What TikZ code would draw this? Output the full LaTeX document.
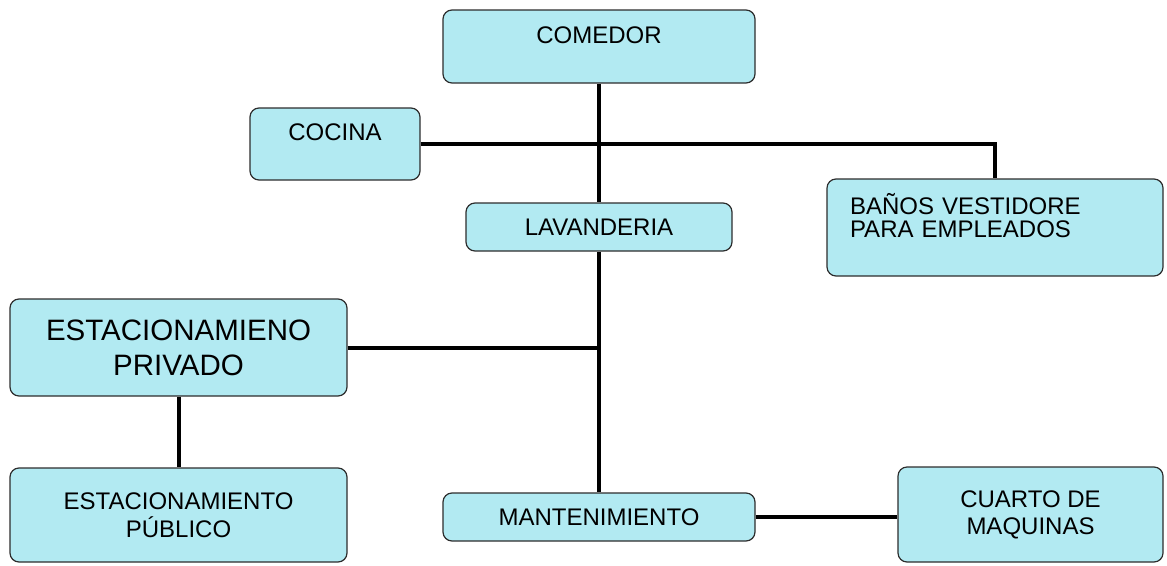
\documentclass[tikz,border=0pt]{standalone}
\usepackage{fontspec}
\setmainfont{Liberation Sans}
\definecolor{boxcyan}{RGB}{178,234,242}
\definecolor{boxedge}{RGB}{45,45,45}
\begin{document}
\begin{tikzpicture}[x=1pt, y=-1pt, line width=4pt,
    area/.style={draw=boxedge, line width=1.2pt, fill=boxcyan, rounded corners=9pt, inner sep=0pt, align=center, font=\fontsize{24}{23}\selectfont}]

                \useasboundingbox (0, 0) rectangle (1167, 565);

                \node[area, minimum width=312, minimum height=73, text depth=22] at (599, 46.5) (comedor) {COMEDOR};
                \node[area, minimum width=170, minimum height=72, text depth=23] at (335, 144) (cocina) {COCINA};
                \node[area, minimum width=266, minimum height=48] at (599, 227) (lavanderia) {LAVANDERIA};
                \node[area, minimum width=336, minimum height=97, text width=290, align=left, text depth=47] at (995, 227.5) (banos) {BAÑOS VESTIDORE\\PARA EMPLEADOS};
                \node[area, minimum width=337, minimum height=97, font=\fontsize{29.5}{35}\selectfont] at (178.5, 347.5) (privado) {ESTACIONAMIENO\\PRIVADO};
                \node[area, minimum width=337, minimum height=94, font=\fontsize{24}{28}\selectfont] at (178.5, 515) (publico) {ESTACIONAMIENTO\\PÚBLICO};
                \node[area, minimum width=312, minimum height=48] at (599, 517) (mantenimiento) {MANTENIMIENTO};
                \node[area, minimum width=265, minimum height=95, font=\fontsize{24}{27}\selectfont] at (1030.5, 514.5) (cuarto) {CUARTO DE\\MAQUINAS};

                \path (comedor) edge (lavanderia);
                \path (lavanderia) edge (mantenimiento);
                \draw (cocina.east) -| (banos.north);
                \draw (privado.east) -- (privado.east -| lavanderia.south);
                \path (privado) edge (publico);
                \draw (mantenimiento.east) -- (mantenimiento.east -| cuarto.west);
            \end{tikzpicture}
\end{document}
